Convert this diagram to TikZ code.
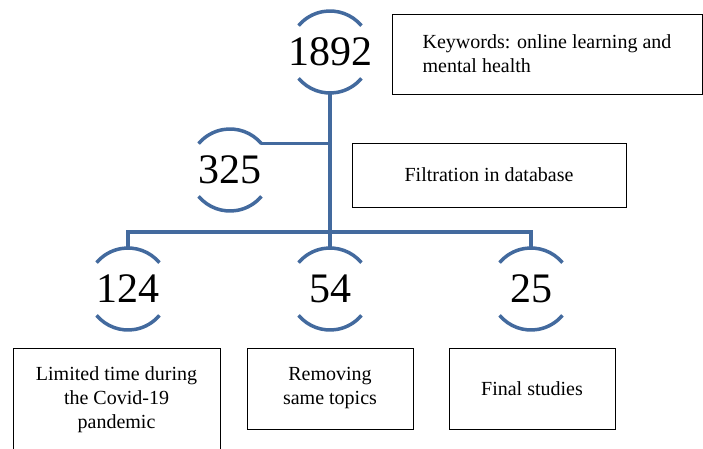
\documentclass[tikz,border=0pt]{standalone}
\usepackage{fontspec}
\setmainfont{Liberation Serif}
\definecolor{ringblue}{RGB}{67,106,158}
\newcommand{\rad}{41pt}
\newcommand{\cnt}[3]{
	\node[count] (#1) at (#2) {\makebox[0pt]{#3}};
	\draw [ring] (#1.40) arc[start angle=40, end angle=140, radius=\rad];
	\draw [ring] (#1.220) arc[start angle=220, end angle=320, radius=\rad];
	}

\begin{document}
\begin{tikzpicture}[
      x=1pt, y=1pt,
      ring/.style={draw=ringblue, line width=3.5pt},
      count/.style={circle, minimum size=82pt, inner sep=0pt, outer sep=0pt, font=\fontsize{42}{42}\selectfont},
      box/.style={draw, line width=0.9pt, inner sep=0pt, font=\fontsize{20}{24}\selectfont, align=center}
    ]
    \useasboundingbox (0,0) rectangle (703,448);
    % Draw the counts
    \cnt{all}{330,396}{1892};
    \cnt{db}{230,278}{325};
    \cnt{time}{128,159}{124};
    \cnt{same}{330,159}{54};
    \cnt{final}{531,159}{25};
    % Draw the tree
    \coordinate (split) at (330,216);
    \draw [ring] (all.south) -- (split);
    \draw [ring] (db.40) -- (db.40 -| all.south);
    \draw [ring] (time.north) |- (split) -| (final.north);
    \draw [ring] (same.north) -- (split);
    % Draw the boxes
    \node[box, align=left, minimum width=310, minimum height=80] (kwbox) at (547,394) {Keywords: online learning and\\mental health};
    \node[box, minimum width=274, minimum height=64] (dbbox) at (489,273) {Filtration in database};
    \node[box, minimum width=207, minimum height=104] (timebox) at (116.5,48) {Limited time during\\the Covid-19\\pandemic};
    \node[box, minimum width=166, minimum height=81] (samebox) at (330,59.5) {Removing\\same topics};
    \node[box, minimum width=166, minimum height=81] (finalbox) at (532,59.5) {Final studies};
\end{tikzpicture}
\end{document}
